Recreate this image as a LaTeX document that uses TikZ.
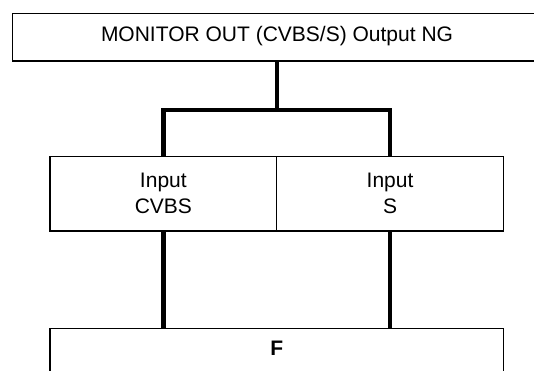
\documentclass[tikz,border=0pt]{standalone}
\usepackage{fontspec}
\setmainfont{Liberation Sans}
\usetikzlibrary{positioning}

\begin{document}
\begin{tikzpicture}[
    x=1pt, y=1pt,
    box/.style={rectangle, draw, line width=1.2pt, inner sep=0pt, outer sep=0pt},
    txt/.style={font=\fontsize{21}{26}\selectfont, align=center},
    link/.style={line width=4.7pt}
]
\useasboundingbox (0,0) rectangle (534,-370);

% Output box, runs off the right edge
\node[box, minimum width=540, minimum height=47.7, anchor=north west] (monitorbox) at (12.3,-13.3) {};
\node[txt] (monitor) at (277,-36) {MONITOR OUT (CVBS/S) Output NG};

% Input boxes
\node[box, txt, minimum width=226.7, minimum height=74.3, anchor=north west] (cvbs) at (50,-156.7) {Input\\CVBS};
\node[box, txt, minimum width=226.7, minimum height=74.3, right=0pt of cvbs] (svideo) {Input\\S};

% F box, runs off the bottom edge
\node[box, minimum width=453.3, minimum height=80, anchor=north] (fbox) at (276.7,-328.3) {};
\node[txt, font=\fontsize{21}{26}\selectfont\bfseries] (f) at (276.7,-348.3) {F};

% Connectors
\draw[link] (monitor |- monitorbox.south) -- ++(0,-49) coordinate (split);
\draw[link] (cvbs.north) |- (split) -| (svideo.north);
\draw[link] (cvbs.south) -- (cvbs.south |- fbox.north);
\draw[link] (svideo.south) -- (svideo.south |- fbox.north);

\end{tikzpicture}
\end{document}
